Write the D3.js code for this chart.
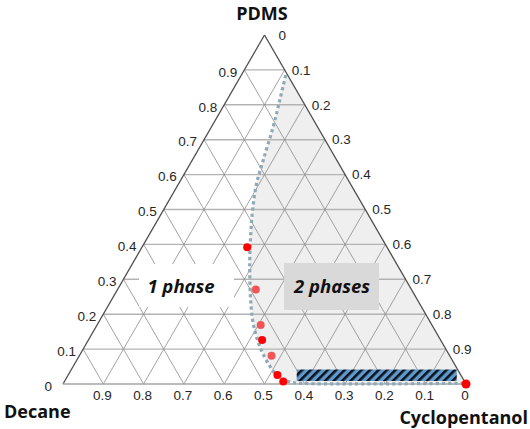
<!DOCTYPE html>
<html>
<head>
<meta charset="utf-8">
<script src="https://cdn.jsdelivr.net/npm/d3@7"></script>
<style>
  body { margin: 0; background: #fff; }
  svg { display: block; }
</style>
</head>
<body>
<svg id="chart"></svg>
<script>
const width = 530;
const height = 429;

// axis tick labels
const tickValues = [0, 0.1, 0.2, 0.3, 0.4, 0.5, 0.6, 0.7, 0.8, 0.9];
const tickLabels = ["0", "0.1", "0.2", "0.3", "0.4", "0.5", "0.6", "0.7", "0.8", "0.9"];

// measured compositions (PDMS, Decane); Cyclopentanol = 1 - PDMS - Decane
const pointPdms   = [0.392, 0.271, 0.169, 0.126, 0.081, 0.026, 0.007, 0.0];
const pointDecane = [0.347, 0.386, 0.425, 0.443, 0.442, 0.455, 0.450, 0.0];
const pointFaded  = [false, true, true, false, true, false, false, false];

// binodal (dotted) curve
const curvePdms   = [0.885, 0.814, 0.737, 0.642, 0.575, 0.499, 0.432, 0.365, 0.317, 0.241, 0.174, 0.107, 0.050, 0.016, 0.006, 0.002, 0.002];
const curveDecane = [0.005, 0.055, 0.110, 0.182, 0.232, 0.280, 0.318, 0.354, 0.378, 0.414, 0.441, 0.458, 0.461, 0.454, 0.434, 0.410, 0.0];

// hatched band near the bottom
const hatchDecane = [0.42, 0.023];
const hatchPdms = [0.0086, 0.0415];

const svg = d3.select("#chart").attr("width", width).attr("height", height);

const y = d3.scaleLinear().domain([0, 1]).range([384, 35]);
const x = d3.scaleLinear().domain([0, 1]).range([63, 466]);

// ternary -> screen, s measured from the Decane corner
function pt(p, d) {
    return [x(1 - d - p / 2), y(p)];
}

const defs = svg.append("defs");
const pat = defs.append("pattern")
    .attr("id", "hatch")
    .attr("patternUnits", "userSpaceOnUse")
    .attr("width", 6).attr("height", 6)
    .attr("patternTransform", "rotate(45)");
pat.append("rect").attr("width", 6).attr("height", 6).attr("fill", "#5b9bd5");
pat.append("rect").attr("width", 2.6).attr("height", 6).attr("fill", "#111");

// two-phase shading
const shadePts = curvePdms.map((p, i) => pt(p, curveDecane[i]));
shadePts.push(pt(0, 0));
shadePts.push(pt(curvePdms[0], 0));
svg.append("path")
    .attr("d", d3.line()(shadePts) + "Z")
    .attr("fill", "#efefef");

// grid lines
const grid = svg.append("g");
tickValues.slice(1).forEach(v => {
    // constant PDMS (horizontal)
    const a = pt(v, 1 - v), b = pt(v, 0);
    grid.append("line")
        .attr("x1", a[0]).attr("y1", a[1]).attr("x2", b[0]).attr("y2", b[1])
        .attr("stroke", "#b3b3b3").attr("stroke-width", 1.4);
});
tickValues.slice(1).forEach(v => {
    // constant Decane
    let a = pt(0, v), b = pt(1 - v, v);
    grid.append("line")
        .attr("x1", a[0]).attr("y1", a[1]).attr("x2", b[0]).attr("y2", b[1])
        .attr("stroke", "#8c8c8c").attr("stroke-width", 0.8);
    // constant Cyclopentanol
    a = pt(0, 1 - v); b = pt(1 - v, 0);
    grid.append("line")
        .attr("x1", a[0]).attr("y1", a[1]).attr("x2", b[0]).attr("y2", b[1])
        .attr("stroke", "#8c8c8c").attr("stroke-width", 0.8);
});

// triangle outline
const A = pt(1, 0), L = pt(0, 1), R = pt(0, 0);
svg.append("line").attr("x1", L[0]).attr("y1", L[1]).attr("x2", A[0]).attr("y2", A[1])
    .attr("stroke", "#4d4d4d").attr("stroke-width", 1.3);
svg.append("line").attr("x1", A[0]).attr("y1", A[1]).attr("x2", R[0]).attr("y2", R[1])
    .attr("stroke", "#4d4d4d").attr("stroke-width", 1.3);
svg.append("line").attr("x1", L[0]).attr("y1", L[1]).attr("x2", R[0]).attr("y2", R[1])
    .attr("stroke", "#a6a6a6").attr("stroke-width", 1.6);

// region labels
svg.append("rect").attr("x", 139).attr("y", 264).attr("width", 95).attr("height", 43).attr("fill", "#fff");
svg.append("rect").attr("x", 284).attr("y", 263).attr("width", 95).attr("height", 47).attr("fill", "#d9d9d9");

const labelFont = "'Open Sans', sans-serif";
svg.append("text").attr("x", 181).attr("y", 293)
    .attr("text-anchor", "middle").attr("font-family", labelFont)
    .attr("font-size", 18.5).attr("font-weight", "bold").attr("font-style", "italic")
    .attr("fill", "#111").text("1 phase");
svg.append("text").attr("x", 332).attr("y", 293)
    .attr("text-anchor", "middle").attr("font-family", labelFont)
    .attr("font-size", 18.5).attr("font-weight", "bold").attr("font-style", "italic")
    .attr("fill", "#111").text("2 phases");

// hatched band
svg.append("rect")
    .attr("x", x(1 - hatchDecane[0])).attr("y", y(hatchPdms[1]))
    .attr("width", x(1 - hatchDecane[1]) - x(1 - hatchDecane[0]))
    .attr("height", y(hatchPdms[0]) - y(hatchPdms[1]))
    .attr("fill", "url(#hatch)");

// dotted binodal curve
svg.append("path")
    .attr("d", d3.line().curve(d3.curveCatmullRom)(curvePdms.map((p, i) => pt(p, curveDecane[i]))))
    .attr("fill", "none")
    .attr("stroke", "#8fa9b7")
    .attr("stroke-width", 3.2)
    .attr("stroke-dasharray", "3.2,3");

// data points
svg.append("g").selectAll("circle")
    .data(pointPdms.map((p, i) => ({ p: p, d: pointDecane[i], faded: pointFaded[i] })))
    .enter().append("circle")
    .attr("cx", d => pt(d.p, d.d)[0])
    .attr("cy", d => pt(d.p, d.d)[1])
    .attr("r", d => d.p === 0 && d.d === 0 ? 4.5 : 4)
    .attr("fill", d => d.faded ? "#f25555" : "#ff0000");

// tick labels
const tickFont = "'Liberation Sans', Arial, sans-serif";
const ticks = svg.append("g").attr("font-family", tickFont).attr("font-size", 13.5).attr("fill", "#262626");
tickValues.forEach((v, i) => {
    // PDMS on the left edge
    const l = pt(v, 1 - v);
    ticks.append("text").attr("x", l[0] - (v === 0 ? 11 : 7)).attr("y", l[1] + 2)
        .attr("dy", "0.35em").attr("text-anchor", "end").text(tickLabels[i]);
    // Cyclopentanol on the right edge (0 at top)
    const r = pt(1 - v, 0);
    ticks.append("text").attr("x", r[0] + (v === 0 ? 14 : 7)).attr("y", r[1])
        .attr("dy", "0.35em").attr("text-anchor", "start").text(tickLabels[i]);
    // Decane on the bottom edge
    const b = pt(0, v);
    ticks.append("text").attr("x", b[0] - 1).attr("y", 400)
        .attr("text-anchor", "middle").text(tickLabels[i]);
});

// axis titles
const titleFont = "'Open Sans', sans-serif";
svg.append("text").attr("x", 262).attr("y", 20).attr("text-anchor", "middle")
    .attr("font-family", titleFont).attr("font-size", 18).attr("font-weight", "bold")
    .attr("fill", "#111").text("PDMS");
svg.append("text").attr("x", 4).attr("y", 418).attr("text-anchor", "start")
    .attr("font-family", titleFont).attr("font-size", 18).attr("font-weight", "bold")
    .attr("fill", "#111").text("Decane");
svg.append("text").attr("x", 528).attr("y", 424).attr("text-anchor", "end")
    .attr("font-family", titleFont).attr("font-size", 18).attr("font-weight", "bold")
    .attr("fill", "#111").text("Cyclopentanol");
</script>
</body>
</html>
